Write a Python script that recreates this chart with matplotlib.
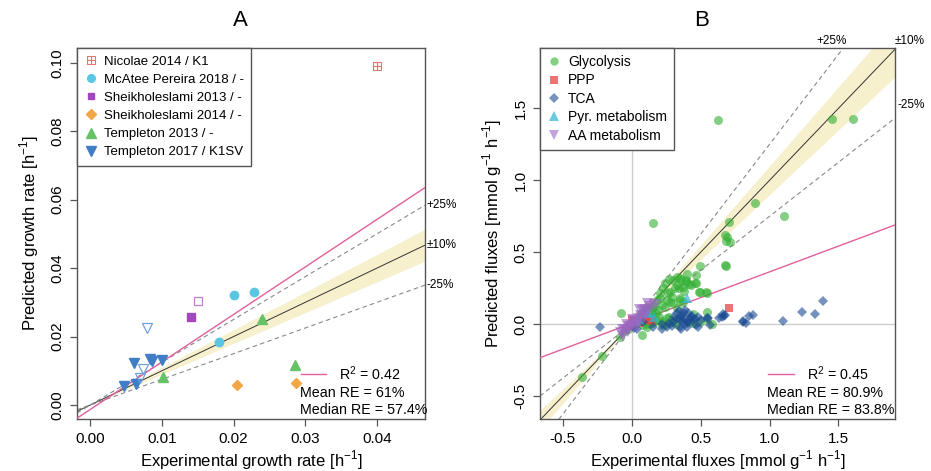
import matplotlib
matplotlib.use("Agg")
import matplotlib.pyplot as plt
import numpy as np
from matplotlib.lines import Line2D
from matplotlib.ticker import FormatStrFormatter

plt.rcParams["font.family"] = ["Liberation Sans", "DejaVu Sans"]
plt.rcParams["mathtext.fontset"] = "custom"
plt.rcParams["mathtext.rm"] = "Liberation Sans"

# ---------------- Panel A data (growth rates) ----------------
nicolae_x = [0.0400]
nicolae_y = [0.0990]
mcatee_x = [0.0200, 0.0229, 0.0179]
mcatee_y = [0.0321, 0.0330, 0.0184]
sheik13_x = [0.0140]
sheik13_y = [0.0257]
sheik13_open_x = [0.0150]
sheik13_open_y = [0.0305]
sheik14_x = [0.0204, 0.0287]
sheik14_y = [0.0057, 0.0063]
templ13_x = [0.0239, 0.0286, 0.0101]
templ13_y = [0.0251, 0.0117, 0.0082]
templ17_x = [0.0061, 0.0083, 0.0086, 0.0100, 0.0047, 0.0064]
templ17_y = [0.0124, 0.0134, 0.0129, 0.0130, 0.0056, 0.0062]
templ17_open_x = [0.0079, 0.0073, 0.0069]
templ17_open_y = [0.0226, 0.0105, 0.0080]
fit_a = (1.388, -0.0013)  # slope, intercept
stats_a = ["0.42", "61%", "57.4%"]

# ---------------- Panel B data (fluxes) ----------------
gly_x = [0.628, 1.451, 1.609, 0.897, 1.103, 0.157, 0.706, 0.677, 0.689, 0.682,
         0.713, 0.677, 0.685, 0.498, 0.470, 0.464, 0.430, 0.490, 0.537, 0.544,
         0.443, -0.075, 0.073, -0.085, -0.218, -0.360, 0.350, 0.418, 0.314, 0.266,
         0.205, 0.278, 0.350, 0.242, 0.327, 0.374, 0.302, 0.394, 0.180, 0.133,
         0.157, 0.254, 0.290, 0.350, 0.218, 0.084, 0.036, 0.109, 0.496, 0.447,
         0.273, 0.331, 0.399, 0.360, 0.242, 0.327, 0.394, 0.460, 0.205, 0.278,
         0.496, 0.544, 0.181, 0.254, 0.350, 0.152, 0.218, 0.302, 0.375, 0.020,
         0.050, 0.080, 0.100, 0.120, 0.150, 0.180, 0.200, 0.220, 0.250, 0.270,
         0.300, 0.320, 0.150, 0.060, 0.090, 0.110, 0.140, 0.160, 0.190, -0.030,
         -0.050, 0.580, 0.420, 0.550, 0.340, 0.290, 0.230, 0.380]
gly_y = [1.419, 1.426, 1.426, 0.842, 0.752, 0.703, 0.708, 0.620, 0.604, 0.578,
         0.569, 0.410, 0.405, 0.403, 0.342, 0.285, 0.273, 0.222, 0.222, 0.083,
         0.072, 0.076, -0.076, -0.086, -0.218, -0.364, 0.324, 0.280, 0.250, 0.215,
         0.180, 0.157, 0.169, 0.122, 0.111, 0.261, 0.308, 0.308, 0.076, 0.053,
         0.018, 0.042, 0.018, 0.042, -0.005, -0.005, 0.007, -0.016, 0.014, 0.007,
         0.312, 0.330, 0.350, 0.307, 0.285, 0.273, 0.292, 0.285, 0.215, 0.227,
         0.227, 0.215, 0.169, 0.169, 0.180, 0.122, 0.134, 0.146, 0.157, 0.010,
         0.030, 0.050, 0.020, 0.000, 0.010, 0.030, 0.050, 0.020, 0.000, 0.050,
         0.030, 0.000, 0.070, 0.070, 0.090, 0.120, 0.100, 0.130, 0.100, -0.030,
         -0.050, 0.000, 0.020, 0.040, 0.250, 0.190, 0.250, 0.230]
ppp_x = [0.708, 0.000, 0.020, 0.120, 0.150, 0.050, -0.020, 0.090]
ppp_y = [0.111, 0.030, 0.020, 0.030, 0.020, 0.010, -0.010, 0.040]
tca_x = [0.665, 0.653, 0.677, 0.805, 0.829, 0.854, 0.883, 1.100, 1.234, 1.330,
         1.386, -0.230, 0.552, 0.483, 0.634, 0.327, 0.375, 0.410, 0.350, 0.400,
         0.447, 0.430, 0.302, 0.254, 0.350, 0.387, 0.470, 0.544, 0.565, 0.290,
         0.218, 0.157, 0.036, 0.084, 0.017, 0.360, 0.380, 0.420, 0.440, 0.460,
         0.330, 0.370, 0.390, 0.410, 0.310, 0.340, 0.480, 0.500, 0.360, 0.400,
         0.270, 0.810, 0.670, 0.220]
tca_y = [0.072, 0.049, 0.065, 0.018, 0.011, 0.058, 0.062, 0.025, 0.083, 0.074,
         0.160, -0.017, 0.042, -0.017, 0.046, 0.076, 0.053, 0.076, 0.030, 0.018,
         0.030, 0.050, 0.018, -0.017, -0.017, 0.100, -0.005, 0.042, -0.005, -0.010,
         -0.030, -0.017, -0.030, 0.018, -0.028, 0.060, 0.080, 0.040, 0.060, 0.040,
         0.040, 0.020, 0.000, 0.010, 0.050, 0.090, 0.050, 0.030, -0.030, -0.020,
         0.010, 0.020, 0.060, 0.000]
pyr_x = [0.400, 0.109, 0.120, 0.050, 0.030, 0.160]
pyr_y = [0.180, 0.088, 0.076, 0.040, 0.020, 0.050]
aa_x = [-0.080, -0.050, -0.030, 0.000, 0.020, 0.050, 0.070, 0.100, 0.120, 0.130,
        0.169, 0.060, 0.080, 0.040, -0.020, 0.010, -0.061, -0.036, 0.110, -0.060,
        0.030, 0.090]
aa_y = [-0.060, -0.040, -0.050, -0.010, 0.020, 0.040, 0.060, 0.100, 0.141, 0.120,
        0.134, 0.100, 0.090, 0.010, -0.020, 0.030, -0.040, -0.005, 0.080, -0.080,
        -0.020, 0.050]
fit_b = (0.358, 0.006)
stats_b = ["0.45", "80.9%", "83.8%"]

BOX = "#555555"
PINK = "#E0609C"
BAND = "#F7F0CD"


def style_axes(ax):
    for s in ax.spines.values():
        s.set_color(BOX)
        s.set_linewidth(1.0)
    ax.tick_params(direction="out", length=5, width=0.9, color=BOX,
                   labelsize=11, pad=4)
    ax.tick_params(axis="y", labelrotation=90)
    for lbl in ax.get_yticklabels():
        lbl.set_va("center")


def guide_lines(ax, xlim):
    x = np.linspace(xlim[0], xlim[1], 200)
    ax.fill_between(x, 0.9 * x, 1.1 * x, color=BAND, lw=0, zorder=1)
    ax.plot(x, x, color="#333333", lw=0.7, zorder=2)
    ax.plot(x, 1.25 * x, color="#888888", lw=0.8, ls=(0, (4, 3)), zorder=2)
    ax.plot(x, 0.75 * x, color="#888888", lw=0.8, ls=(0, (4, 3)), zorder=2)


def stats_block(ax, stats, fs):
    ax.plot([0.643, 0.716], [0.121, 0.121], color=PINK, lw=1,
            transform=ax.transAxes, zorder=6)
    ax.text(0.752, 0.121, r"R$^2$ = " + stats[0], transform=ax.transAxes,
            va="center", ha="left", fontsize=fs, zorder=6)
    ax.text(0.640, 0.071, "Mean RE = " + stats[1], transform=ax.transAxes,
            va="center", ha="left", fontsize=fs, zorder=6)
    ax.text(0.640, 0.025, "Median RE = " + stats[2], transform=ax.transAxes,
            va="center", ha="left", fontsize=fs, zorder=6)


fig = plt.figure(figsize=(9.31, 4.71), dpi=100)
axA = fig.add_axes([0.0827, 0.1104, 0.3738, 0.7876])
axB = fig.add_axes([0.5800, 0.1104, 0.3813, 0.7876])

# ---------------- Panel A ----------------
xlimA = (-0.00186, 0.0467)
ylimA = (-0.0041, 0.1043)
guide_lines(axA, xlimA)
xx = np.array(xlimA)
axA.plot(xx, fit_a[0] * xx + fit_a[1], color=PINK, lw=1, zorder=3)

c_red, c_cyan, c_purple = "#E57373", "#5BC6E3", "#A347BE"
c_orange, c_green, c_blue = "#F2A646", "#66C266", "#3F7EC6"
axA.plot(nicolae_x, nicolae_y, ls="none", marker="s", ms=6, mfc="none",
         mec=c_red, mew=0.8, zorder=4)
axA.plot(nicolae_x, nicolae_y, ls="none", marker="+", ms=6, mec=c_red,
         mew=0.8, zorder=4)
axA.plot(mcatee_x, mcatee_y, ls="none", marker="o", ms=6, color=c_cyan, zorder=4)
axA.plot(sheik13_x, sheik13_y, ls="none", marker="s", ms=5.5, color=c_purple, zorder=4)
axA.plot(sheik13_open_x, sheik13_open_y, ls="none", marker="s", ms=5.5, mfc="none",
         mec="#C57AD6", mew=0.9, zorder=4)
axA.plot(sheik14_x, sheik14_y, ls="none", marker="D", ms=5.5, color=c_orange, zorder=4)
axA.plot(templ13_x, templ13_y, ls="none", marker="^", ms=7, color=c_green, zorder=4)
axA.plot(templ17_x, templ17_y, ls="none", marker="v", ms=7, color=c_blue, zorder=4)
axA.plot(templ17_open_x, templ17_open_y, ls="none", marker="v", ms=7, mfc="none",
         mec="#6FA3DB", mew=0.9, zorder=4)

axA.set_xlim(xlimA)
axA.set_ylim(ylimA)
axA.set_xticks([0.0, 0.01, 0.02, 0.03, 0.04])
axA.set_yticks([0.0, 0.02, 0.04, 0.06, 0.08, 0.10])
axA.xaxis.set_major_formatter(FormatStrFormatter("%.2f"))
axA.yaxis.set_major_formatter(FormatStrFormatter("%.2f"))
style_axes(axA)
axA.set_xlabel(r"Experimental growth rate [h$^{-1}$]", fontsize=12, labelpad=2)
axA.set_ylabel(r"Predicted growth rate [h$^{-1}$]", fontsize=12, labelpad=7)

handlesA = [
    (Line2D([], [], ls="none", marker="s", ms=5.5, mfc="none", mec=c_red, mew=0.8),
     Line2D([], [], ls="none", marker="+", ms=5.5, mec=c_red, mew=0.8)),
    Line2D([], [], ls="none", marker="o", ms=5.5, color=c_cyan),
    Line2D([], [], ls="none", marker="s", ms=5, color=c_purple),
    Line2D([], [], ls="none", marker="D", ms=5, color=c_orange),
    Line2D([], [], ls="none", marker="^", ms=6.5, color=c_green),
    Line2D([], [], ls="none", marker="v", ms=6.5, color=c_blue),
]
labelsA = ["Nicolae 2014 / K1", "McAtee Pereira 2018 / -", "Sheikholeslami 2013 / -",
           "Sheikholeslami 2014 / -", "Templeton 2013 / -", "Templeton 2017 / K1SV"]
legA = axA.legend(handlesA, labelsA, loc="upper left", fontsize=9.5,
                  borderaxespad=0, frameon=True, fancybox=False, framealpha=1,
                  edgecolor=BOX, handlelength=1.0, handletextpad=0.5,
                  labelspacing=0.45, borderpad=0.55)
legA.get_frame().set_linewidth(1.0)
legA.set_zorder(7)

for yv, txt in [(1.25, "+25%"), (1.0, "\u00b110%"), (0.75, "-25%")]:
    axA.text(xlimA[1] + 0.0002, yv * xlimA[1], txt, ha="left", va="center",
             fontsize=8.5, clip_on=False)
stats_block(axA, stats_a, 10.3)

# ---------------- Panel B ----------------
xlimB = (-0.665, 1.910)
ylimB = (-0.658, 1.919)
axB.axhline(0, color="#CCCCCC", lw=1, zorder=0)
axB.axvline(0, color="#CCCCCC", lw=1, zorder=0)
guide_lines(axB, xlimB)
xx = np.array(xlimB)
axB.plot(xx, fit_b[0] * xx + fit_b[1], color=PINK, lw=1, zorder=3)

g_col, p_col, t_col, y_col, a_col = "#33B033", "#E84545", "#1A4A94", "#2FB3D3", "#9A66C2"
axB.plot(gly_x, gly_y, ls="none", marker="o", ms=6.5, mew=0, color=g_col, alpha=0.6, zorder=4)
axB.plot(ppp_x, ppp_y, ls="none", marker="s", ms=5.5, mew=0, color=p_col, alpha=0.75, zorder=4)
axB.plot(tca_x, tca_y, ls="none", marker="D", ms=5.5, mew=0, color=t_col, alpha=0.6, zorder=4)
axB.plot(pyr_x, pyr_y, ls="none", marker="^", ms=7, mew=0, color=y_col, alpha=0.7, zorder=4)
axB.plot(aa_x, aa_y, ls="none", marker="v", ms=8, mew=0, color=a_col, alpha=0.6, zorder=4)

axB.set_xlim(xlimB)
axB.set_ylim(ylimB)
axB.set_xticks([-0.5, 0.0, 0.5, 1.0, 1.5])
axB.set_yticks([-0.5, 0.0, 0.5, 1.0, 1.5])
axB.xaxis.set_major_formatter(FormatStrFormatter("%.1f"))
axB.yaxis.set_major_formatter(FormatStrFormatter("%.1f"))
style_axes(axB)
axB.set_xlabel(r"Experimental fluxes [mmol g$^{-1}$ h$^{-1}$]", fontsize=12, labelpad=2)
axB.set_ylabel(r"Predicted fluxes [mmol g$^{-1}$ h$^{-1}$]", fontsize=12, labelpad=7)

handlesB = [
    Line2D([], [], ls="none", marker="o", ms=6, mew=0, color=g_col, alpha=0.6),
    Line2D([], [], ls="none", marker="s", ms=5.5, mew=0, color=p_col, alpha=0.75),
    Line2D([], [], ls="none", marker="D", ms=5.5, mew=0, color=t_col, alpha=0.6),
    Line2D([], [], ls="none", marker="^", ms=7, mew=0, color=y_col, alpha=0.7),
    Line2D([], [], ls="none", marker="v", ms=7, mew=0, color=a_col, alpha=0.6),
]
labelsB = ["Glycolysis", "PPP", "TCA", "Pyr. metabolism", "AA metabolism"]
legB = axB.legend(handlesB, labelsB, loc="upper left", fontsize=10,
                  borderaxespad=0, frameon=True, fancybox=False, framealpha=1,
                  edgecolor=BOX, handlelength=1.0, handletextpad=0.5,
                  labelspacing=0.32, borderpad=0.5)
legB.get_frame().set_linewidth(1.0)
legB.set_zorder(7)

axB.text(1.45, ylimB[1] + 0.01, "+25%", ha="center",
         va="bottom", fontsize=8.5, clip_on=False)
axB.text(xlimB[1], ylimB[1] + 0.01, "\u00b110%", ha="left", va="bottom",
         fontsize=8.5, clip_on=False)
axB.text(xlimB[1] + 0.02, 0.75 * xlimB[1] + 0.05, "-25%", ha="left", va="bottom",
         fontsize=8.5, clip_on=False)
stats_block(axB, stats_b, 10.3)

fig.text(240 / 931, 1 - 21 / 471, "A", ha="center", va="center", fontsize=16)
fig.text(702 / 931, 1 - 21 / 471, "B", ha="center", va="center", fontsize=16)

fig.savefig("out.png", dpi=100)
